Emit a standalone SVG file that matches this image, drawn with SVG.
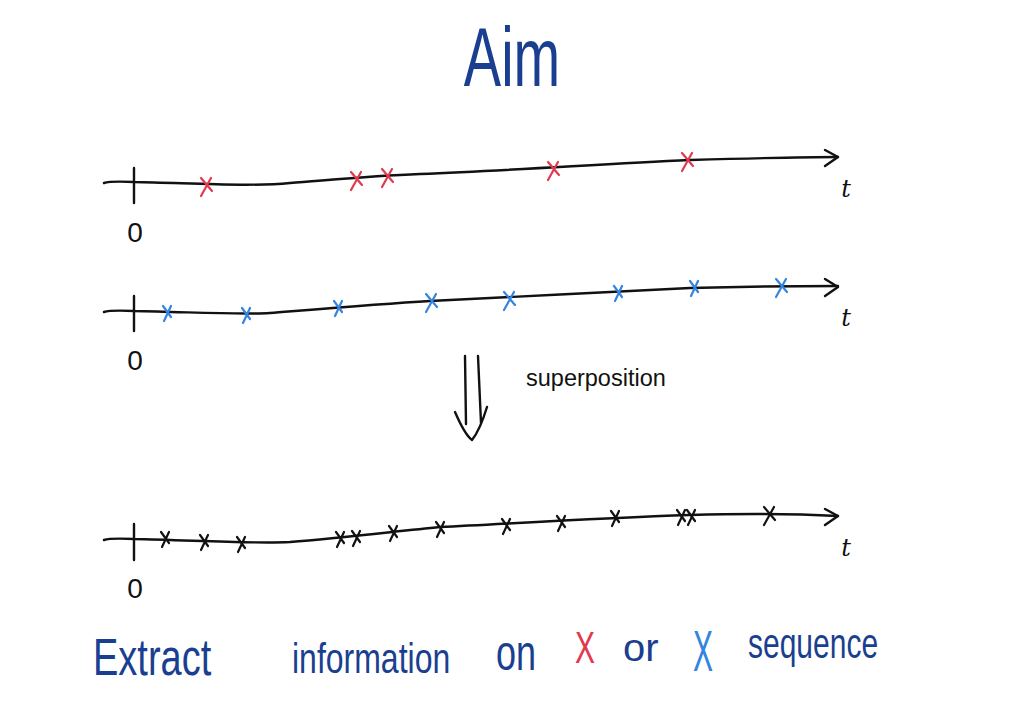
<svg xmlns="http://www.w3.org/2000/svg" width="1024" height="725" viewBox="0 0 1024 725">
<defs>
<style>
.ax{fill:none;stroke:#111;stroke-width:2.4;stroke-linecap:round;stroke-linejoin:round}
.xm{fill:none;stroke-width:2.2;stroke-linecap:round}
.red{stroke:#e2394f}
.blu{stroke:#3385e0}
.blk{stroke:#111}
.lbl{font-family:"Liberation Sans",sans-serif;font-size:28px;fill:#111}
.tt{font-family:"DejaVu Serif",serif;font-style:italic;font-size:24px;fill:#111}
.hw{font-family:"Liberation Sans",sans-serif;fill:#1b3f90}
</style>
<path id="cx" d="M-5,-7 L6,6 M5,-7 L-5,11"/>
<path id="cxs" d="M-4,-6 L4,5 M4,-6 L-3,9"/>
</defs>
<rect width="1024" height="725" fill="#fff"/>

<g id="title">
<text class="hw" font-size="56" text-anchor="middle" transform="translate(512,86) scale(1,1.5)">Aim</text>
</g>

<g id="axis1">
<path class="ax" d="M104,183 Q110,181 134,182 C190,183 250,187 290,183 C330,180 370,176 420,174 C520,170 600,164 690,160 C760,158 800,157 838,157"/>
<path class="ax" d="M825,150 L838,157 L825,166"/>
<path class="ax" d="M134,168 L134,203"/>
<text class="lbl" x="135" y="242" text-anchor="middle">0</text>
<text class="tt" x="846" y="197" text-anchor="middle">t</text>
<g class="xm red">
<use href="#cx" x="206" y="185"/>
<use href="#cx" x="356" y="179"/>
<use href="#cx" x="387" y="176"/>
<use href="#cx" x="553" y="169"/>
<use href="#cx" x="687" y="160"/>
</g>
</g>

<g id="axis2">
<path class="ax" d="M104,312 Q110,310 134,311 C190,312 240,315 270,313 C320,309 380,304 430,301 C520,297 600,292 690,288 C760,286 800,286 838,286"/>
<path class="ax" d="M825,279 L838,287 L825,296"/>
<path class="ax" d="M134,296 L134,331"/>
<text class="lbl" x="135" y="370" text-anchor="middle">0</text>
<text class="tt" x="846" y="326" text-anchor="middle">t</text>
<g class="xm blu">
<use href="#cxs" x="167" y="312"/>
<use href="#cxs" x="246" y="314"/>
<use href="#cxs" x="338" y="307"/>
<use href="#cx" x="431" y="301"/>
<use href="#cx" x="509" y="299"/>
<use href="#cxs" x="618" y="292"/>
<use href="#cxs" x="694" y="287"/>
<use href="#cx" x="781" y="286"/>
</g>
</g>

<g id="arrow">
<path class="ax" d="M465,356 L466,424 M478,356 L481,423"/>
<path class="ax" d="M455,412 Q465,435 472,440 Q480,430 487,407"/>
<text x="526" y="386" font-family="Liberation Sans, sans-serif" font-size="23.5" fill="#111">superposition</text>
</g>

<g id="axis3">
<path class="ax" d="M104,540 Q110,538 134,539 C190,540 250,544 290,542 C340,538 390,532 440,527 C520,523 600,518 690,515 C760,513 800,514 838,516"/>
<path class="ax" d="M825,509 L838,516 L825,525"/>
<path class="ax" d="M134,524 L134,560"/>
<text class="lbl" x="135" y="598" text-anchor="middle">0</text>
<text class="tt" x="846" y="556" text-anchor="middle">t</text>
<g class="xm blk">
<use href="#cxs" x="165" y="538"/>
<use href="#cxs" x="204" y="541"/>
<use href="#cxs" x="241" y="543"/>
<use href="#cxs" x="340" y="538"/>
<use href="#cxs" x="356" y="537"/>
<use href="#cxs" x="393" y="532"/>
<use href="#cxs" x="440" y="528"/>
<use href="#cxs" x="506" y="525"/>
<use href="#cxs" x="561" y="522"/>
<use href="#cxs" x="615" y="517"/>
<use href="#cxs" x="681" y="516"/>
<use href="#cxs" x="691" y="516"/>
<use href="#cx" x="769" y="514"/>
</g>
</g>

<g id="caption">
<text class="hw" font-size="38" transform="translate(93,675) scale(1,1.35)">Extract</text>
<text class="hw" font-size="32" transform="translate(292,673) scale(1,1.35)">information</text>
<text class="hw" font-size="36" transform="translate(496,670) scale(1,1.4)">on</text>
<text font-family="Liberation Sans, sans-serif" font-size="30" fill="#e2394f" transform="translate(575,663) scale(1,1.45)">X</text>
<text class="hw" font-size="40" transform="translate(623,661) scale(1,0.95)">or</text>
<text font-family="Liberation Sans, sans-serif" font-size="30" fill="#3385e0" transform="translate(693,671) scale(1,1.9)">X</text>
<text class="hw" font-size="30" transform="translate(748,658) scale(1,1.4)">sequence</text>
</g>
</svg>
